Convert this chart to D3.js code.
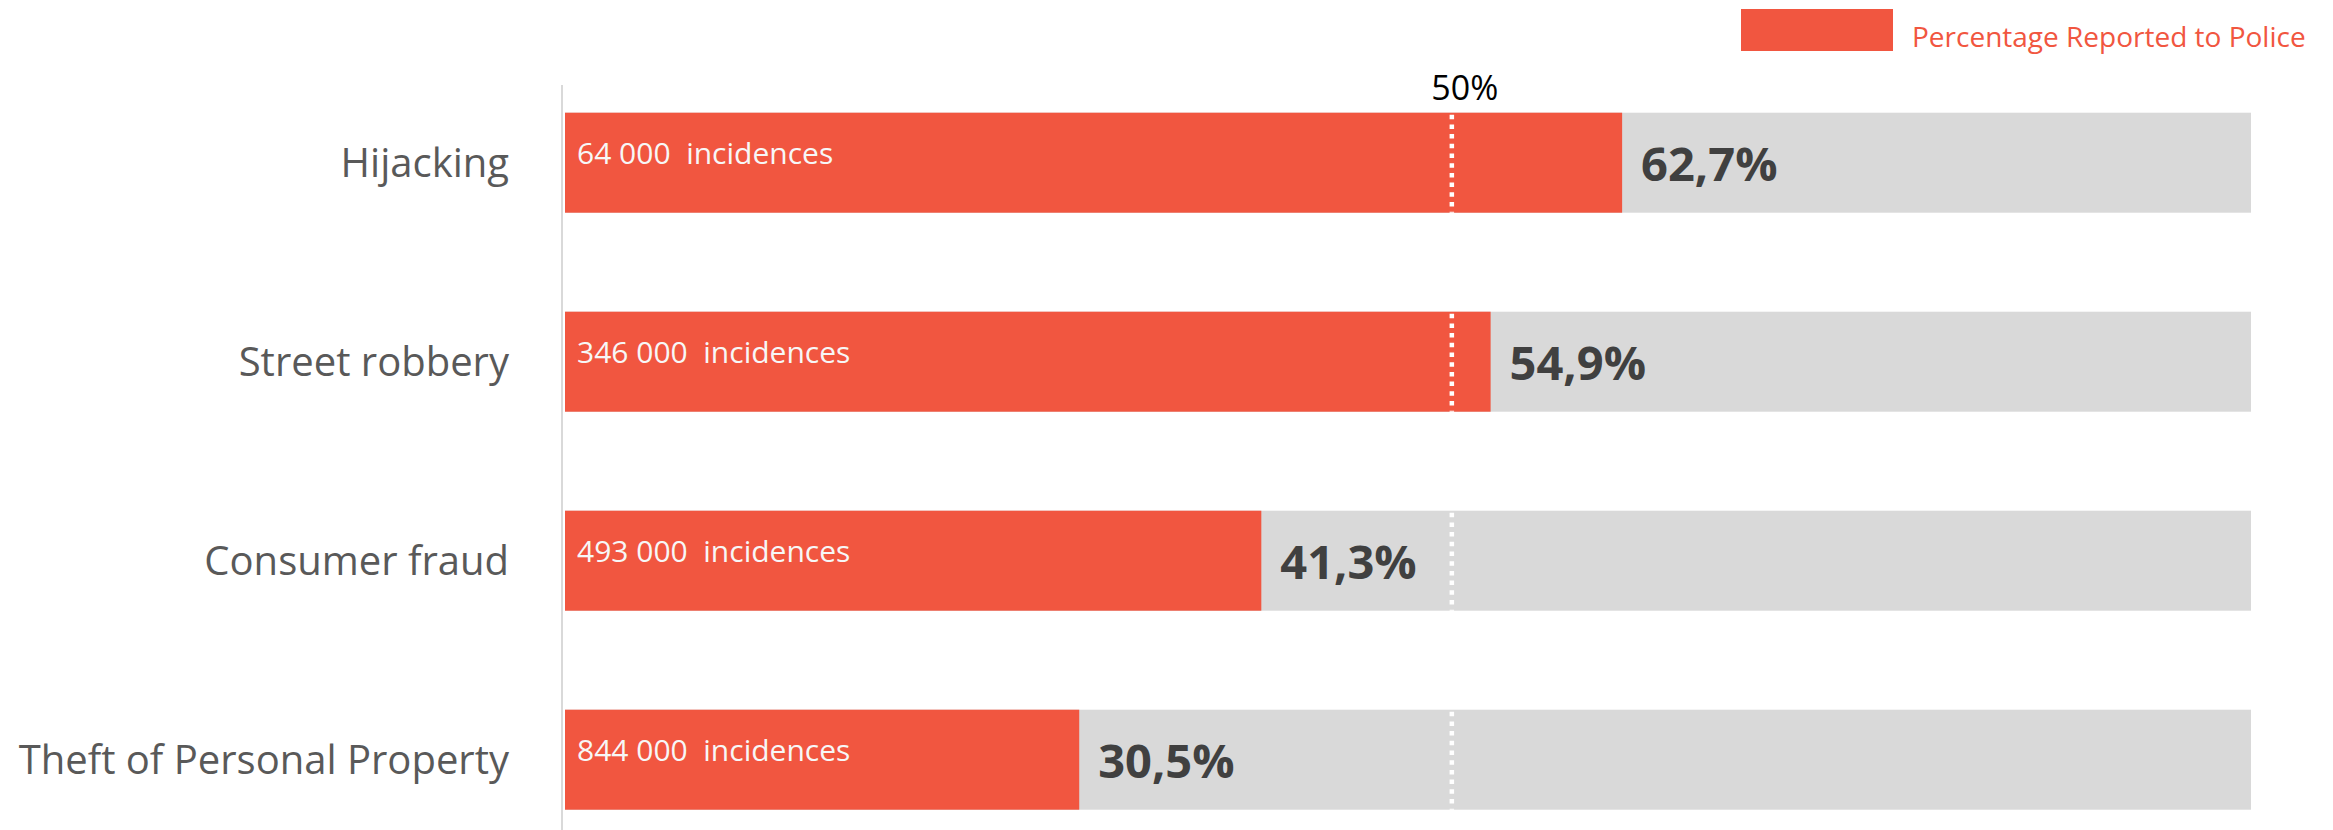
<!DOCTYPE html>
<html>
<head>
<meta charset="utf-8">
<script src="https://cdn.jsdelivr.net/npm/d3@7"></script>
<style>
  body { margin: 0; background: #fff; }
  text { font-family: "Open Sans", "Noto Sans", sans-serif; }
</style>
</head>
<body>
<svg id="chart" width="2333" height="830"></svg>
<script>
// data
const categories = ["Hijacking", "Street robbery", "Consumer fraud", "Theft of Personal Property"];
const reported = [62.7, 54.9, 41.3, 30.5];
const incidences = ["64 000", "346 000", "493 000", "844 000"];
const refLineValue = 52.6;   // where the dotted marker sits on the bar scale
const refLineLabel = "50%";
const legendLabel = "Percentage Reported to Police";

const red = "#f15640";
const grey = "#d9d9d9";

const svg = d3.select("#chart");

const x = d3.scaleLinear()
  .domain([0, 100])
  .range([565, 2251]);

const y = d3.scaleBand()
  .domain(categories)
  .range([63.2, 859.2])
  .paddingInner(0.4975)
  .paddingOuter(0.4975 / 2);

const rows = categories.map((c, i) => ({
  name: c,
  value: reported[i],
  count: incidences[i]
}));

// left axis line
svg.append("line")
  .attr("x1", 562).attr("x2", 562)
  .attr("y1", 85).attr("y2", 830)
  .attr("stroke", "#d9d9d9")
  .attr("stroke-width", 2);

// background (100%) bars
svg.selectAll(".bg")
  .data(rows)
  .join("rect")
  .attr("class", "bg")
  .attr("x", x(0))
  .attr("y", d => y(d.name))
  .attr("width", x(100) - x(0))
  .attr("height", y.bandwidth())
  .attr("fill", grey);

// reported bars
svg.selectAll(".val")
  .data(rows)
  .join("rect")
  .attr("class", "val")
  .attr("x", x(0))
  .attr("y", d => y(d.name))
  .attr("width", d => x(d.value) - x(0))
  .attr("height", y.bandwidth())
  .attr("fill", red);

// dotted 50% marker inside each bar
svg.selectAll(".ref")
  .data(rows)
  .join("line")
  .attr("class", "ref")
  .attr("x1", x(refLineValue)).attr("x2", x(refLineValue))
  .attr("y1", d => y(d.name) + 2)
  .attr("y2", d => y(d.name) + y.bandwidth())
  .attr("stroke", "#fff")
  .attr("stroke-width", 4.5)
  .attr("stroke-dasharray", "4.5,5.2");

svg.append("text")
  .attr("x", x(refLineValue) + 13)
  .attr("y", 100)
  .attr("text-anchor", "middle")
  .attr("font-size", "34px")
  .attr("fill", "#000")
  .text(refLineLabel);

// category labels
svg.selectAll(".cat")
  .data(rows)
  .join("text")
  .attr("class", "cat")
  .attr("x", 509)
  .attr("y", d => y(d.name) + y.bandwidth() / 2 + 14)
  .attr("text-anchor", "end")
  .attr("font-size", "40px")
  .attr("fill", "#595959")
  .text(d => d.name);

// incidences inside bars
svg.selectAll(".inc")
  .data(rows)
  .join("text")
  .attr("class", "inc")
  .attr("x", 577)
  .attr("y", d => y(d.name) + y.bandwidth() / 2 + 1)
  .attr("font-size", "30px")
  .attr("fill", "#f7f7f7")
  .style("white-space", "pre")
  .text(d => d.count + "  incidences");

// percentage labels
svg.selectAll(".pct")
  .data(rows)
  .join("text")
  .attr("class", "pct")
  .attr("x", d => x(d.value) + 19)
  .attr("y", d => y(d.name) + y.bandwidth() / 2 + 18)
  .attr("font-size", "47px")
  .attr("font-weight", "bold")
  .attr("fill", "#404040")
  .text(d => d.value.toFixed(1).replace(".", ",") + "%");

// legend
svg.append("rect")
  .attr("x", 1741).attr("y", 9)
  .attr("width", 152).attr("height", 42)
  .attr("fill", red);

svg.append("text")
  .attr("x", 1912)
  .attr("y", 47)
  .attr("font-size", "28px")
  .attr("fill", red)
  .text(legendLabel);
</script>
</body>
</html>
